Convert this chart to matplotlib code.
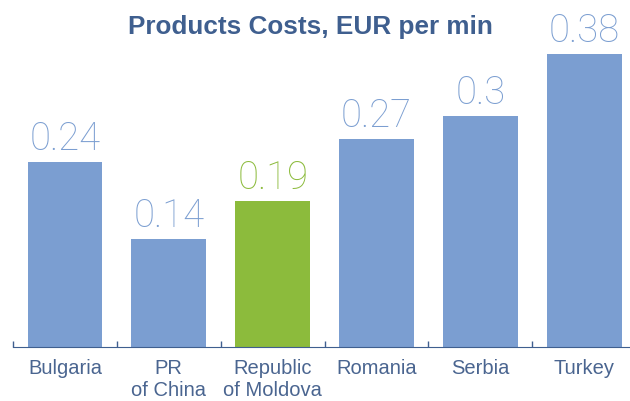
import matplotlib.pyplot as plt
import numpy as np

countries = ["Bulgaria", "PR\nof China", "Republic\nof Moldova", "Romania", "Serbia", "Turkey"]
costs = [0.24, 0.14, 0.19, 0.27, 0.3, 0.38]
labels = ["0.24", "0.14", "0.19", "0.27", "0.3", "0.38"]
highlight = "Republic\nof Moldova"

blue = "#7b9ed1"
green = "#8cbb3c"
dark = "#3f5f8f"

plt.rcParams['font.family'] = ['Liberation Sans', 'DejaVu Sans']

fig = plt.figure(figsize=(6.30, 4.01), dpi=100)
ax = fig.add_axes([13 / 630, 54 / 401, 617 / 630, 347 / 401])

x = np.arange(len(countries))
colors = [green if c == highlight else blue for c in countries]
ax.bar(x, costs, width=0.72, color=colors)

for xi, v, lab, col in zip(x, costs, labels, colors):
    ax.text(xi, v + 0.005, lab, ha="center", va="bottom", fontsize=27.5,
            color=col, family=["Roboto", "Liberation Sans"], fontweight="light")

ax.set_xlim(-0.5, 5.44)
ax.set_ylim(0, 347 / 771)
ax.set_xticks(x)
ax.set_xticklabels(countries, fontsize=14.5, color="#4a6590", linespacing=1.15)
ax.tick_params(axis="x", which="major", length=0, pad=9)
ax.set_xticks(np.arange(-0.5, 5, 1), minor=True)
ax.tick_params(axis="x", which="minor", direction="in", length=4.5, color=dark, width=1)
ax.set_yticks([])
for s in ["top", "right", "left"]:
    ax.spines[s].set_visible(False)
ax.spines["bottom"].set_color(dark)

fig.text(310 / 630, 1 - 27 / 401, "Products Costs, EUR per min", ha="center", va="center",
         fontsize=18.8, fontweight="bold", color=dark)

fig.savefig("out.png", dpi=100)
